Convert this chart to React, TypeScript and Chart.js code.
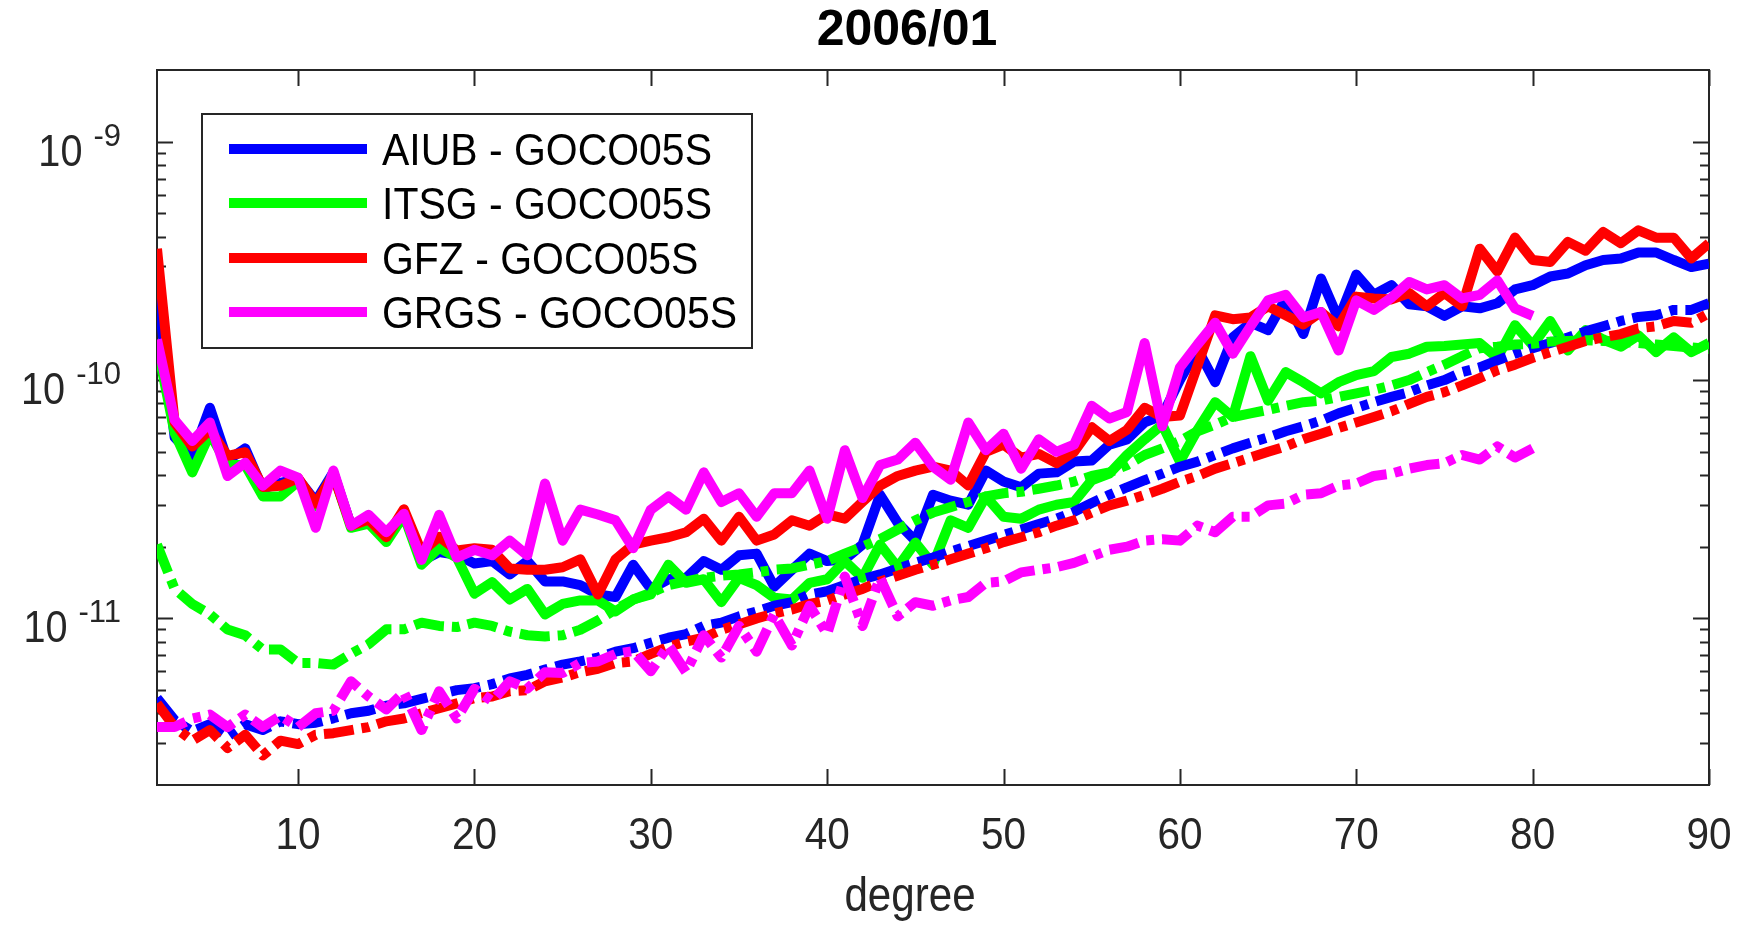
import { useEffect, useRef } from 'react';
import { Chart, registerables } from 'chart.js';

Chart.register(...registerables);

// ---------- data ----------
const degrees = [
  2, 3, 4, 5, 6, 7, 8, 9, 10, 11, 12, 13, 14, 15, 16, 17, 18, 19, 20, 21, 22, 23, 24, 25, 26, 27, 28, 29, 30,
  31, 32, 33, 34, 35, 36, 37, 38, 39, 40, 41, 42, 43, 44, 45, 46, 47, 48, 49, 50, 51, 52, 53, 54, 55, 56, 57, 58, 59, 60,
  61, 62, 63, 64, 65, 66, 67, 68, 69, 70, 71, 72, 73, 74, 75, 76, 77, 78, 79, 80, 81, 82, 83, 84, 85, 86, 87, 88, 89, 90,
];

// AIUB - GOCO05S (solid blue), degrees 2..90
const aiubDiff = [
  2.5e-10, 5.75e-11, 4.81e-11, 7.65e-11, 4.6e-11, 5.17e-11, 3.5e-11, 3.7e-11, 3.85e-11, 3.1e-11,
  4.1e-11, 2.45e-11, 2.65e-11, 2.2e-11, 2.8e-11, 1.74e-11, 1.9e-11, 1.85e-11, 1.7e-11, 1.74e-11,
  1.53e-11, 1.74e-11, 1.43e-11, 1.43e-11, 1.38e-11, 1.26e-11, 1.23e-11, 1.68e-11, 1.33e-11, 1.46e-11,
  1.48e-11, 1.74e-11, 1.6e-11, 1.84e-11, 1.87e-11, 1.36e-11, 1.6e-11, 1.87e-11, 1.74e-11, 1.77e-11,
  2.04e-11, 3.3e-11, 2.52e-11, 2.12e-11, 3.3e-11, 3.12e-11, 3.0e-11, 4.17e-11, 3.75e-11, 3.55e-11,
  4.05e-11, 4.1e-11, 4.55e-11, 4.6e-11, 5.36e-11, 5.64e-11, 6.64e-11, 7.1e-11, 1.0e-10, 1.35e-10,
  9.8e-11, 1.51e-10, 1.74e-10, 1.62e-10, 2.2e-10, 1.56e-10, 2.67e-10, 1.8e-10, 2.77e-10, 2.28e-10,
  2.5e-10, 2.08e-10, 2.04e-10, 1.86e-10, 2.04e-10, 2.0e-10, 2.1e-10, 2.4e-10, 2.5e-10, 2.72e-10,
  2.8e-10, 3.03e-10, 3.19e-10, 3.24e-10, 3.43e-10, 3.43e-10, 3.19e-10, 2.98e-10, 3.08e-10,
];

// ITSG - GOCO05S (solid green)
const itsgDiff = [
  1.4e-10, 6.0e-11, 4.1e-11, 5.96e-11, 4.4e-11, 4.4e-11, 3.25e-11, 3.25e-11, 3.75e-11, 2.95e-11,
  4.05e-11, 2.4e-11, 2.5e-11, 2.09e-11, 2.7e-11, 1.68e-11, 1.98e-11, 1.8e-11, 1.27e-11, 1.42e-11,
  1.2e-11, 1.33e-11, 1.04e-11, 1.15e-11, 1.19e-11, 1.19e-11, 1.07e-11, 1.2e-11, 1.26e-11, 1.68e-11,
  1.41e-11, 1.46e-11, 1.17e-11, 1.48e-11, 1.38e-11, 1.22e-11, 1.2e-11, 1.41e-11, 1.46e-11, 1.74e-11,
  1.48e-11, 2.04e-11, 1.64e-11, 2.08e-11, 1.68e-11, 2.58e-11, 2.4e-11, 3.25e-11, 2.67e-11, 2.62e-11,
  2.86e-11, 3.0e-11, 3.08e-11, 3.8e-11, 4.05e-11, 4.85e-11, 5.64e-11, 6.5e-11, 4.55e-11, 6.18e-11,
  8.08e-11, 7.0e-11, 1.26e-10, 8.2e-11, 1.08e-10, 9.8e-11, 8.8e-11, 9.8e-11, 1.05e-10, 1.09e-10,
  1.25e-10, 1.29e-10, 1.38e-10, 1.39e-10, 1.41e-10, 1.43e-10, 1.24e-10, 1.7e-10, 1.4e-10, 1.77e-10,
  1.33e-10, 1.62e-10, 1.48e-10, 1.38e-10, 1.54e-10, 1.31e-10, 1.51e-10, 1.31e-10, 1.43e-10,
];

// GFZ - GOCO05S (solid red)
const gfzDiff = [
  3.56e-10, 6.64e-11, 5.26e-11, 6.18e-11, 4.81e-11, 4.98e-11, 3.56e-11, 3.6e-11, 3.88e-11, 3.03e-11,
  4.0e-11, 2.45e-11, 2.6e-11, 2.19e-11, 2.87e-11, 1.9e-11, 2.2e-11, 1.93e-11, 1.97e-11, 1.94e-11,
  1.62e-11, 1.6e-11, 1.6e-11, 1.64e-11, 1.77e-11, 1.26e-11, 1.77e-11, 2.04e-11, 2.12e-11, 2.19e-11,
  2.3e-11, 2.62e-11, 2.12e-11, 2.67e-11, 2.12e-11, 2.25e-11, 2.58e-11, 2.45e-11, 2.73e-11, 2.62e-11,
  3.08e-11, 3.61e-11, 3.96e-11, 4.17e-11, 4.33e-11, 4.17e-11, 3.61e-11, 5.0e-11, 5.36e-11, 4.73e-11,
  4.9e-11, 4.48e-11, 5.0e-11, 6.35e-11, 5.55e-11, 6.18e-11, 7.65e-11, 7.0e-11, 7.1e-11, 1.15e-10,
  1.87e-10, 1.8e-10, 1.83e-10, 2.04e-10, 1.87e-10, 1.71e-10, 1.93e-10, 1.68e-10, 2.24e-10, 2.2e-10,
  2.18e-10, 2.32e-10, 2.04e-10, 2.32e-10, 2.04e-10, 3.56e-10, 2.86e-10, 3.96e-10, 3.19e-10, 3.13e-10,
  3.8e-10, 3.49e-10, 4.18e-10, 3.75e-10, 4.25e-10, 3.96e-10, 3.96e-10, 3.24e-10, 3.75e-10,
];

// GRGS - GOCO05S (solid magenta), degrees 2..80
const grgsDiff = [
  1.48e-10, 6.8e-11, 5.55e-11, 6.64e-11, 3.96e-11, 4.5e-11, 3.6e-11, 4.17e-11, 3.9e-11, 2.4e-11,
  4.17e-11, 2.45e-11, 2.72e-11, 2.3e-11, 2.75e-11, 1.76e-11, 2.72e-11, 1.8e-11, 1.94e-11, 1.84e-11,
  2.12e-11, 1.84e-11, 3.68e-11, 2.12e-11, 2.86e-11, 2.73e-11, 2.58e-11, 1.97e-11, 2.86e-11, 3.25e-11,
  2.86e-11, 4.1e-11, 3.08e-11, 3.35e-11, 2.67e-11, 3.35e-11, 3.35e-11, 4.17e-11, 2.62e-11, 5.08e-11,
  3.2e-11, 4.4e-11, 4.64e-11, 5.46e-11, 4.33e-11, 3.82e-11, 6.64e-11, 5.08e-11, 5.96e-11, 4.25e-11,
  5.64e-11, 5.0e-11, 5.36e-11, 7.8e-11, 6.9e-11, 7.35e-11, 1.43e-10, 6.4e-11, 1.13e-10, 1.41e-10,
  1.74e-10, 1.29e-10, 1.68e-10, 2.16e-10, 2.28e-10, 1.83e-10, 1.93e-10, 1.33e-10, 2.16e-10, 1.97e-10,
  2.22e-10, 2.58e-10, 2.4e-10, 2.5e-10, 2.2e-10, 2.28e-10, 2.62e-10, 2.0e-10, 1.86e-10,
];

// dash-dot curves (formal errors), degrees 2..90
const aiubSigma = [
  4.63e-12, 3.74e-12, 3.36e-12, 3.6e-12, 3.19e-12, 3.6e-12, 3.4e-12, 3.7e-12, 3.6e-12, 3.65e-12,
  3.81e-12, 4.0e-12, 4.1e-12, 4.3e-12, 4.4e-12, 4.6e-12, 4.8e-12, 5.0e-12, 5.1e-12, 5.3e-12,
  5.6e-12, 5.8e-12, 6.1e-12, 6.4e-12, 6.6e-12, 6.85e-12, 7.25e-12, 7.5e-12, 7.9e-12, 8.3e-12,
  8.6e-12, 9.3e-12, 9.6e-12, 1.02e-11, 1.07e-11, 1.13e-11, 1.17e-11, 1.26e-11, 1.3e-11, 1.38e-11,
  1.46e-11, 1.53e-11, 1.62e-11, 1.71e-11, 1.8e-11, 1.91e-11, 2.01e-11, 2.12e-11, 2.24e-11, 2.36e-11,
  2.49e-11, 2.62e-11, 2.8e-11, 3.05e-11, 3.3e-11, 3.55e-11, 3.8e-11, 4.05e-11, 4.33e-11, 4.55e-11,
  4.85e-11, 5.17e-11, 5.46e-11, 5.75e-11, 6.1e-11, 6.4e-11, 6.76e-11, 7.25e-11, 7.65e-11, 8.08e-11,
  8.5e-11, 8.9e-11, 9.5e-11, 1.0e-10, 1.08e-10, 1.13e-10, 1.21e-10, 1.29e-10, 1.36e-10, 1.43e-10,
  1.51e-10, 1.6e-10, 1.68e-10, 1.77e-10, 1.84e-10, 1.87e-10, 1.97e-10, 1.97e-10, 2.1e-10,
];

const itsgSigma = [
  2.04e-11, 1.33e-11, 1.15e-11, 1.04e-11, 8.98e-12, 8.5e-12, 7.4e-12, 7.4e-12, 6.5e-12, 6.5e-12,
  6.4e-12, 7.1e-12, 7.8e-12, 9.0e-12, 9.0e-12, 9.6e-12, 9.3e-12, 9.2e-12, 9.6e-12, 9.3e-12,
  8.8e-12, 8.5e-12, 8.4e-12, 8.5e-12, 8.96e-12, 9.8e-12, 1.09e-11, 1.2e-11, 1.28e-11, 1.38e-11,
  1.43e-11, 1.48e-11, 1.51e-11, 1.53e-11, 1.56e-11, 1.6e-11, 1.62e-11, 1.68e-11, 1.74e-11, 1.87e-11,
  2.0e-11, 2.15e-11, 2.36e-11, 2.58e-11, 2.78e-11, 2.93e-11, 3.08e-11, 3.25e-11, 3.35e-11, 3.4e-11,
  3.5e-11, 3.61e-11, 3.75e-11, 3.96e-11, 4.1e-11, 4.4e-11, 4.85e-11, 5.17e-11, 5.55e-11, 6.1e-11,
  6.5e-11, 7.0e-11, 7.25e-11, 7.5e-11, 7.8e-11, 8.08e-11, 8.2e-11, 8.5e-11, 8.8e-11, 9.1e-11,
  9.5e-11, 1.0e-10, 1.08e-10, 1.16e-10, 1.26e-10, 1.36e-10, 1.38e-10, 1.41e-10, 1.42e-10, 1.45e-10,
  1.46e-10, 1.47e-10, 1.46e-10, 1.45e-10, 1.43e-10, 1.41e-10, 1.39e-10, 1.37e-10, 1.35e-10,
];

const gfzSigma = [
  4.4e-12, 3.5e-12, 3.07e-12, 3.4e-12, 2.86e-12, 3.25e-12, 2.66e-12, 3.07e-12, 2.97e-12, 3.25e-12,
  3.3e-12, 3.4e-12, 3.5e-12, 3.7e-12, 3.8e-12, 4.0e-12, 4.2e-12, 4.4e-12, 4.63e-12, 4.7e-12,
  4.95e-12, 5.0e-12, 5.45e-12, 5.65e-12, 5.95e-12, 6.15e-12, 6.5e-12, 6.6e-12, 7.1e-12, 7.6e-12,
  8.0e-12, 8.3e-12, 8.96e-12, 9.45e-12, 1.0e-11, 1.05e-11, 1.09e-11, 1.15e-11, 1.19e-11, 1.26e-11,
  1.33e-11, 1.43e-11, 1.51e-11, 1.6e-11, 1.68e-11, 1.77e-11, 1.87e-11, 1.97e-11, 2.09e-11, 2.19e-11,
  2.3e-11, 2.45e-11, 2.58e-11, 2.78e-11, 2.98e-11, 3.12e-11, 3.3e-11, 3.5e-11, 3.75e-11, 3.96e-11,
  4.25e-11, 4.48e-11, 4.73e-11, 5.0e-11, 5.27e-11, 5.64e-11, 5.96e-11, 6.3e-11, 6.64e-11, 7.0e-11,
  7.4e-11, 7.94e-11, 8.5e-11, 8.9e-11, 9.5e-11, 1.02e-10, 1.1e-10, 1.16e-10, 1.24e-10, 1.31e-10,
  1.38e-10, 1.46e-10, 1.51e-10, 1.56e-10, 1.65e-10, 1.68e-10, 1.77e-10, 1.74e-10, 1.91e-10,
];

// degrees 2..80
const grgsSigma = [
  3.5e-12, 3.5e-12, 3.8e-12, 3.95e-12, 3.5e-12, 3.95e-12, 3.5e-12, 3.9e-12, 3.5e-12, 4.0e-12,
  4.1e-12, 5.45e-12, 4.7e-12, 4.15e-12, 4.9e-12, 3.4e-12, 4.95e-12, 3.8e-12, 5.07e-12, 4.5e-12,
  5.45e-12, 5.07e-12, 5.95e-12, 5.9e-12, 6.5e-12, 6.6e-12, 7.1e-12, 7.3e-12, 6.0e-12, 7.7e-12,
  5.95e-12, 8.5e-12, 6.85e-12, 9.3e-12, 7.25e-12, 1.04e-11, 7.7e-12, 1.13e-11, 8.6e-12, 1.5e-11,
  9.3e-12, 1.48e-11, 1.02e-11, 1.17e-11, 1.13e-11, 1.19e-11, 1.23e-11, 1.41e-11, 1.43e-11, 1.56e-11,
  1.6e-11, 1.64e-11, 1.71e-11, 1.82e-11, 1.94e-11, 2.0e-11, 2.12e-11, 2.15e-11, 2.12e-11, 2.45e-11,
  2.3e-11, 2.67e-11, 2.67e-11, 2.98e-11, 3.03e-11, 3.3e-11, 3.35e-11, 3.61e-11, 3.68e-11, 3.96e-11,
  4.05e-11, 4.25e-11, 4.4e-11, 4.48e-11, 4.85e-11, 4.64e-11, 5.27e-11, 4.73e-11, 5.17e-11,
];

const legendLabels = ['AIUB - GOCO05S', 'ITSG - GOCO05S', 'GFZ - GOCO05S', 'GRGS - GOCO05S'];
const seriesColors = ['#0000FF', '#00FF00', '#FF0000', '#FF00FF'];
const xTicks = [10, 20, 30, 40, 50, 60, 70, 80, 90];
const yTickExponents = [-11, -10, -9];
const titleText = '2006/01';
const xTitleText = 'degree';

// ---------- styling ----------
const FONT = '"Liberation Sans", Arial, Helvetica, sans-serif';
const AXIS_COLOR = '#262626';
const LINE_W = 10;
const DASH_DOT = [30, 8, 8, 8];
const MAJOR = 16;
const MINOR = 9;

function pts(xs: number[], ys: number[]) {
  return ys.map((y, i) => ({ x: xs[i], y }));
}

function drawText(
  ctx: CanvasRenderingContext2D,
  text: string,
  x: number,
  y: number,
  size: number,
  weight: string,
  align: 'left' | 'center' | 'right',
  sx: number,
  color: string,
) {
  ctx.save();
  ctx.font = `${weight} ${size}px ${FONT}`;
  ctx.textAlign = 'left';
  ctx.textBaseline = 'alphabetic';
  ctx.fillStyle = color;
  const w = ctx.measureText(text).width * sx;
  const left = align === 'center' ? x - w / 2 : align === 'right' ? x - w : x;
  ctx.translate(left, y);
  ctx.scale(sx, 1);
  ctx.fillText(text, 0, 0);
  ctx.restore();
  return w;
}

function textWidth(ctx: CanvasRenderingContext2D, text: string, size: number, weight: string, sx: number) {
  ctx.save();
  ctx.font = `${weight} ${size}px ${FONT}`;
  const w = ctx.measureText(text).width * sx;
  ctx.restore();
  return w;
}

const solidSeries = [aiubDiff, itsgDiff, gfzDiff, grgsDiff];
const dashSeries = [aiubSigma, itsgSigma, gfzSigma, grgsSigma];

const datasets: any[] = [];
solidSeries.forEach((s, i) => {
  datasets.push({
    label: legendLabels[i],
    data: pts(degrees, s),
    borderColor: seriesColors[i],
    backgroundColor: seriesColors[i],
    borderWidth: LINE_W,
    pointRadius: 0,
    fill: false,
    tension: 0,
    borderJoinStyle: 'round',
    borderCapStyle: 'butt',
    order: 7 - i,
  });
});
dashSeries.forEach((s, i) => {
  datasets.push({
    label: legendLabels[i] + ' sigma',
    data: pts(degrees, s),
    borderColor: seriesColors[i],
    backgroundColor: seriesColors[i],
    borderWidth: LINE_W,
    borderDash: DASH_DOT,
    pointRadius: 0,
    fill: false,
    tension: 0,
    borderJoinStyle: 'round',
    borderCapStyle: 'butt',
    order: 3 - i,
  });
});

const matlabPlugin = {
  id: 'matlabAxes',
  beforeDatasetsDraw(chart: any) {
    const { ctx, chartArea: a, scales } = chart;
    const xs = scales.x;
    const ys = scales.y;
    ctx.save();
    ctx.strokeStyle = AXIS_COLOR;
    ctx.lineWidth = 2;
    ctx.strokeRect(a.left, a.top, a.right - a.left, a.bottom - a.top);

    ctx.beginPath();
    xTicks.forEach((t) => {
      const px = Math.round(xs.getPixelForValue(t)) + 0.5;
      ctx.moveTo(px, a.bottom);
      ctx.lineTo(px, a.bottom - MAJOR);
      ctx.moveTo(px, a.top);
      ctx.lineTo(px, a.top + MAJOR);
    });
    const minE = Math.floor(Math.log10(ys.min));
    const maxE = Math.ceil(Math.log10(ys.max));
    for (let e = minE; e <= maxE; e++) {
      for (let k = 1; k <= 9; k++) {
        const v = k * Math.pow(10, e);
        if (v < ys.min * 1.001 || v > ys.max * 0.999) continue;
        const py = Math.round(ys.getPixelForValue(v)) + 0.5;
        const len = k === 1 ? MAJOR : MINOR;
        ctx.moveTo(a.left, py);
        ctx.lineTo(a.left + len, py);
        ctx.moveTo(a.right, py);
        ctx.lineTo(a.right - len, py);
      }
    }
    ctx.stroke();
    ctx.restore();

    // x tick labels
    xTicks.forEach((t) => {
      drawText(ctx, String(t), xs.getPixelForValue(t), a.bottom + 64, 45, 'normal', 'center', 0.9, AXIS_COLOR);
    });

    // y tick labels 10^e
    const right = a.left - 36;
    yTickExponents.forEach((e) => {
      const py = ys.getPixelForValue(Math.pow(10, e));
      const expStr = String(e);
      const we = textWidth(ctx, expStr, 32, 'normal', 0.97);
      const wb = textWidth(ctx, '10', 44, 'normal', 0.9);
      const xe = right - we;
      const xb = xe - 11 - wb;
      drawText(ctx, '10', xb, py + 24, 44, 'normal', 'left', 0.9, AXIS_COLOR);
      drawText(ctx, expStr, xe, py + 4, 32, 'normal', 'left', 0.97, AXIS_COLOR);
    });

    // title
    drawText(ctx, titleText, 907, a.top - 25, 50, 'bold', 'center', 1, '#000');

    // x axis title
    drawText(ctx, xTitleText, 910, a.bottom + 126, 49, 'normal', 'center', 0.86, AXIS_COLOR);
  },
  afterDatasetsDraw(chart: any) {
    const { ctx } = chart;
    ctx.save();
    const bx = 202, by = 114, bw = 550, bh = 234;
    ctx.fillStyle = '#fff';
    ctx.fillRect(bx, by, bw, bh);
    ctx.strokeStyle = AXIS_COLOR;
    ctx.lineWidth = 2;
    ctx.strokeRect(bx, by, bw, bh);
    const rows = [149, 203, 258, 312];
    legendLabels.forEach((lab, i) => {
      ctx.strokeStyle = seriesColors[i];
      ctx.lineWidth = LINE_W;
      ctx.lineCap = 'butt';
      ctx.beginPath();
      ctx.moveTo(229, rows[i]);
      ctx.lineTo(367, rows[i]);
      ctx.stroke();
      drawText(ctx, lab, 382, rows[i] + 16, 45, 'normal', 'left', 0.91, '#000');
    });
    ctx.restore();
  },
};

export default function App() {
  const ref = useRef<HTMLCanvasElement>(null);
  useEffect(() => {
    const canvas = ref.current;
    if (!canvas) return;
    const chart = new Chart(canvas, {
      type: 'line',
      data: { datasets },
      options: {
        responsive: false,
        animation: false,
        devicePixelRatio: 1,
        layout: { padding: { left: 157, top: 70, right: 35, bottom: 140 } },
        scales: {
          x: { type: 'linear', min: 2, max: 90, display: false },
          y: { type: 'logarithmic', min: 2e-12, max: 2e-9, display: false },
        },
        plugins: { legend: { display: false }, tooltip: { enabled: false } },
        elements: { point: { radius: 0 } },
      },
      plugins: [matlabPlugin],
    } as any);
    return () => chart.destroy();
  }, []);
  return (
    <div style={{ position: 'absolute', left: 0, top: 0, width: 1744, height: 925, background: '#fff' }}>
      <canvas ref={ref} width={1744} height={925} style={{ display: 'block' }} />
    </div>
  );
}
